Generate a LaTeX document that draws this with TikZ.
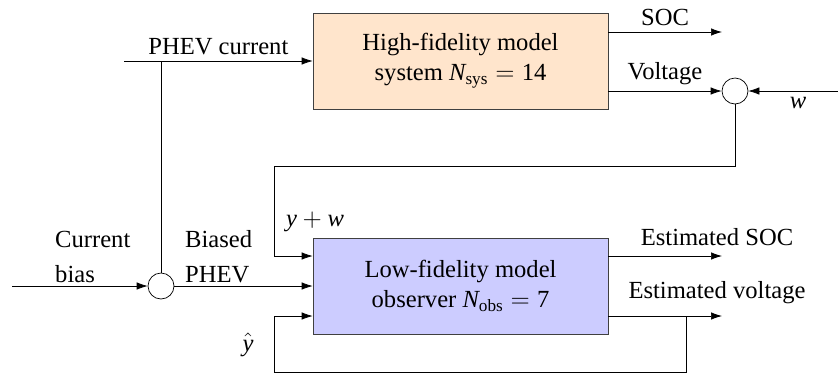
\documentclass[tikz,border=0pt]{standalone}
\usepackage{amsmath}
\usepackage{fontspec}
\setmainfont{Liberation Serif}
\usetikzlibrary{arrows.meta}

\newcommand{\mv}[1]{\textit{#1}}

\tikzset{
  block/.style={draw=black!75, minimum width=5.9cm, minimum height=1.92cm, align=center},
  sumpt/.style={draw, circle, minimum size=0.52cm, inner sep=0pt},
  sig/.style={-{Latex[length=2.2mm,width=1.5mm]}},
}

\begin{document}
\begin{tikzpicture}[x=0.02cm, y=-0.02cm, every node/.style={font=\fontsize{14}{17}\selectfont}]
\useasboundingbox (0,0) rectangle (838,376);

%% blocks
\node[block, fill=orange!20] (hifi) at (460.5,61) {High-fidelity model\\ system $\mv{N}_{\text{sys}}=\text{14}$};
\node[block, fill=blue!20] (lofi) at (460.5,286) {Low-fidelity model\\ observer $\mv{N}_{\text{obs}}=\text{7}$};

%% summing points
\node[sumpt] (sumbias) at (161,286) {};
\node[sumpt] (sumnoise) at (735,91) {};

%% free ends
\coordinate (phevin) at (124,61);
\coordinate (biasin) at (12,286);
\coordinate (noisein) at (838,91);
\coordinate (socout) at (722,32);
\coordinate (estsoc) at (722,256);
\coordinate (estvolt) at (722,316);
\coordinate (ywleft) at (274,166);
\coordinate (fbtap) at (686,316);
\coordinate (fbleft) at (274,372);

%% top path
\draw[sig] (phevin) -- (hifi.west) node[midway, above] (lblphev) {PHEV current};
\draw (sumbias.north |- hifi.west) -- (sumbias.north);
\draw[sig] (hifi.east |- socout) -- (socout) node[midway, above] (lblsoc) {SOC};
\draw[sig] (hifi.east |- sumnoise) -- (sumnoise.west) node[midway, above] (lblvolt) {Voltage};
\draw[sig] (noisein) -- (sumnoise.east) node[midway, below, xshift=0.1cm] (lblw) {$\mv{w}$};

%% measured output to observer
\draw[sig] (sumnoise.south) |- (ywleft) |- (lofi.west |- estsoc);
\node (lblyw) at (315,222) {$\mv{y}+\mv{w}$};

%% bias input
\draw[sig] (biasin) -- (sumbias.west);
\draw[sig] (sumbias.east) -- (lofi.west);
\node[align=left, anchor=west] (lblbias) at (49,257) {Current\\[3pt] bias};
\node[align=left, anchor=west] (lblbiased) at (179,257) {Biased\\[3pt] PHEV};

%% observer outputs
\draw[sig] (lofi.east |- estsoc) -- (estsoc);
\draw[sig] (lofi.east |- estvolt) -- (estvolt);
\node[anchor=base] (lblestsoc) at (717,245) {Estimated SOC};
\node[anchor=base] (lblestvolt) at (717,298) {Estimated voltage};

%% feedback
\draw[sig] (fbtap) |- (fbleft) |- (lofi.west |- estvolt);
\node (lblyhat) at (248,345) {$\hat{\mv{y}}$};
\end{tikzpicture}
\end{document}
